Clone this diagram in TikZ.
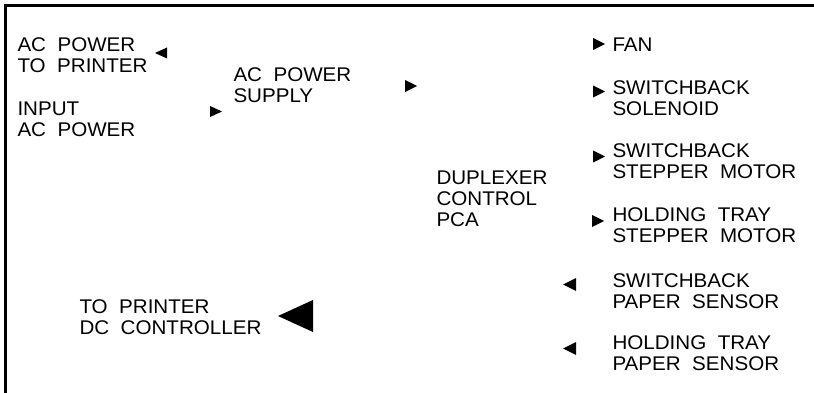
\documentclass[tikz,border=0pt]{standalone}
\usepackage{fontspec}
\setmainfont[FakeStretch=1.04,WordSpace=2]{Liberation Sans}
\newcommand\tipR[4]{\fill (#1,#2) -- ++(-#3,-0.5*#4) -- ++(0,#4) -- cycle;}
\newcommand\tipL[4]{\fill (#1,#2) -- ++(#3,-0.5*#4) -- ++(0,#4) -- cycle;}

\begin{document}
\begin{tikzpicture}[x=1pt,y=-1pt,line width=3pt,
  lbl/.style={anchor=north west,inner sep=0pt,align=left,font=\fontsize{19.8}{21}\selectfont}]
\useasboundingbox (0,0) rectangle (814,393);
\coordinate (B) at (5.5,393); \coordinate (C) at (5.5,5.5); \coordinate (E) at (814,5.5);
\draw[line join=miter] (B)--(C)--(E);
\node[lbl] (acout) at (16,36.5) {AC POWER\\TO PRINTER}; \node[lbl] (acin) at (16,100.5) {INPUT\\AC POWER};
\node[lbl] (psu) at (232,66.5) {AC POWER\\SUPPLY}; \node[lbl] (pca) at (435,169.8) {DUPLEXER\\CONTROL\\PCA};
\node[lbl] (dcc) at (78,298.5) {TO PRINTER\\DC CONTROLLER};
\node[lbl] (fan) at (611,36.5) {FAN}; \node[lbl] (sol) at (611,79.1) {SWITCHBACK\\SOLENOID};
\node[lbl] (sbm) at (611,142.5) {SWITCHBACK\\STEPPER MOTOR}; \node[lbl] (htm) at (611,206.3) {HOLDING TRAY\\STEPPER MOTOR};
\node[lbl] (sbs) at (611,271.8) {SWITCHBACK\\PAPER SENSOR}; \node[lbl] (hts) at (611,334.3) {HOLDING TRAY\\PAPER SENSOR};
\tipL{155}{53}{12}{11} \tipR{222}{111.5}{12}{11} \tipR{417}{86}{12}{12}
\tipR{605}{44}{12}{12} \tipR{605}{91.5}{12}{12} \tipR{605}{156.5}{12}{12} \tipR{604}{221}{12}{12}
\tipL{563}{284.5}{13}{13} \tipL{563}{348.5}{13}{13} \tipL{278}{316}{35}{32}
\end{tikzpicture}
\end{document}
